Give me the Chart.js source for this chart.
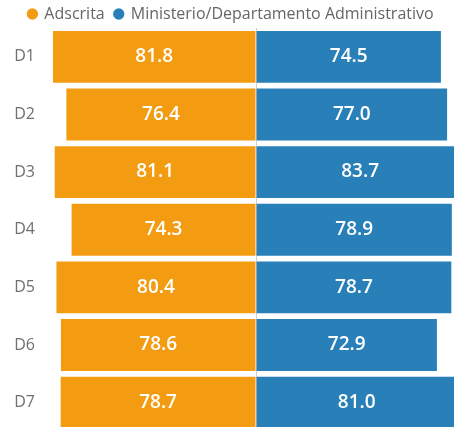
<!DOCTYPE html>
<html>
<head>
<meta charset="utf-8">
<script src="https://cdn.jsdelivr.net/npm/chart.js@4.4.0/dist/chart.umd.min.js"></script>
<style>
html, body { margin: 0; padding: 0; overflow: hidden; background: #fff; }
/* chart is cut off at the right and bottom like the source picture */
#wrap { position: absolute; left: 0; top: -4px; width: 462px; height: 460px; }
</style>
</head>
<body>
<div id="wrap"><canvas id="chart"></canvas></div>
<script>
const categories = ['D1', 'D2', 'D3', 'D4', 'D5', 'D6', 'D7'];
const adscrita = [81.8, 76.4, 81.1, 74.3, 80.4, 78.6, 78.7];
const ministerio = [74.5, 77.0, 83.7, 78.9, 78.7, 72.9, 81.0];
const axisLimit = 83;

Chart.defaults.font.family = "'Open Sans', sans-serif";

// white value labels in the middle of each bar
const barLabels = {
    id: 'barLabels',
    afterDatasetsDraw(chart) {
        const ctx = chart.ctx;
        ctx.save();
        ctx.fillStyle = '#fff';
        ctx.font = "600 19px 'Open Sans', sans-serif";
        ctx.textAlign = 'center';
        ctx.textBaseline = 'middle';
        chart.data.datasets.forEach((ds, i) => {
            chart.getDatasetMeta(i).data.forEach((bar, j) => {
                const v = Math.abs(ds.data[j]);
                ctx.fillText(v.toFixed(1), (bar.x + bar.base) / 2, bar.y);
            });
        });
        ctx.restore();
    }
};

new Chart(document.getElementById('chart'), {
    type: 'bar',
    data: {
        labels: categories,
        datasets: [{
            label: 'Adscrita',
            data: adscrita.map(v => -v),
            backgroundColor: '#F39C12',
            borderWidth: 0
        }, {
            label: 'Ministerio/Departamento Administrativo',
            data: ministerio,
            backgroundColor: '#2980B9',
            borderWidth: 0
        }]
    },
    options: {
        indexAxis: 'y',
        responsive: true,
        maintainAspectRatio: false,
        animation: false,
        layout: { padding: 0 },
        datasets: {
            bar: { categoryPercentage: 0.9, barPercentage: 1 }
        },
        scales: {
            x: {
                stacked: true,
                min: -axisLimit,
                max: axisLimit,
                ticks: { display: false },
                grid: {
                    z: 1,
                    drawTicks: false,
                    color: c => c.tick && c.tick.value === 0 ? 'rgba(120,120,120,0.35)' : 'rgba(0,0,0,0)'
                },
                border: { display: false },
                afterFit(scale) { scale.height = 0; }
            },
            y: {
                stacked: true,
                grid: { display: false, drawTicks: false },
                border: { display: false },
                ticks: { color: '#707070', font: { size: 16 }, padding: 15 },
                afterFit(scale) { scale.width = 50; }
            }
        },
        plugins: {
            legend: {
                position: 'top',
                maxHeight: 32,
                labels: {
                    usePointStyle: true,
                    pointStyle: 'circle',
                    boxWidth: 8,
                    boxHeight: 8,
                    padding: 10,
                    color: '#666',
                    font: { size: 16 }
                }
            },
            tooltip: { enabled: false }
        }
    },
    plugins: [barLabels]
});
</script>
</body>
</html>
